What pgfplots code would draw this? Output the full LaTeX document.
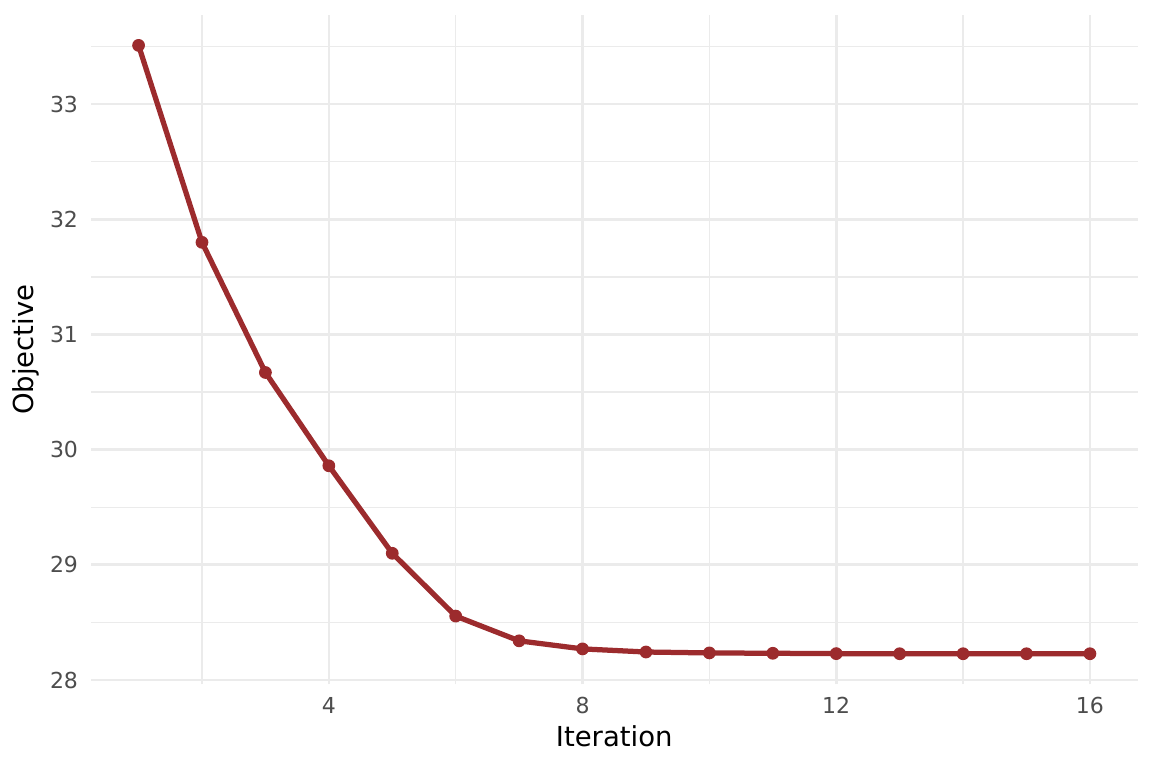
\documentclass[border=0pt]{standalone}
\usepackage{fontspec}
\setmainfont{DejaVu Sans}
\usepackage{xcolor}
\usepackage{pgfplots}
\pgfplotsset{compat=1.18}

\definecolor{linered}{HTML}{9C2B2D}
\definecolor{gridgrey}{HTML}{EBEBEB}
\definecolor{ticktext}{HTML}{4D4D4D}

\begin{document}
\begin{tikzpicture}
\useasboundingbox (0,0) rectangle (460.8pt,307.2pt);
\begin{axis}[
    at={(36.4pt,33.4pt)}, anchor=south west,
    scale only axis,
    width=418.6pt, height=267.8pt,
    xmin=0.25, xmax=16.75,
    ymin=27.961, ymax=33.774,
    xtick={4,8,12,16},
    ytick={28,29,30,31,32,33},
    minor xtick={2,6,10,14},
    minor ytick={28.5,29.5,30.5,31.5,32.5,33.5},
    grid=both,
    major grid style={draw=gridgrey, line width=1.07pt},
    minor grid style={draw=gridgrey, line width=0.53pt},
    axis line style={draw=none},
    major tick length=0pt, minor tick length=0pt,
    tick style={draw=none},
    /pgf/number format/assume math mode=true,
    ticklabel style={font=\fontsize{8.8pt}{10pt}\selectfont, text=ticktext},
    xticklabel style={anchor=north, inner sep=0pt, text height=6.4pt, yshift=-5.1pt},
    yticklabel style={anchor=east, inner sep=0pt, xshift=-5pt},
    xlabel={Iteration},
    ylabel={Objective},
    label style={font=\fontsize{11pt}{13pt}\selectfont, text=black, inner sep=0pt},
    xlabel style={at={(axis description cs:0.5,-0.0930)}, anchor=base},
    ylabel style={at={(axis description cs:-0.0549,0.5)}, anchor=base, rotate=0},
]
\addplot[color=linered, line width=2.1pt, mark=*, mark size=2.3pt,
         mark options={fill=linered, draw=linered, line width=0.5pt}] coordinates {
    (1, 33.51) (2, 31.80) (3, 30.67) (4, 29.86) (5, 29.10) (6, 28.555)
    (7, 28.34) (8, 28.27) (9, 28.243) (10, 28.235) (11, 28.232) (12, 28.229)
    (13, 28.228) (14, 28.228) (15, 28.228) (16, 28.228)
};
\end{axis}
\end{tikzpicture}
\end{document}
